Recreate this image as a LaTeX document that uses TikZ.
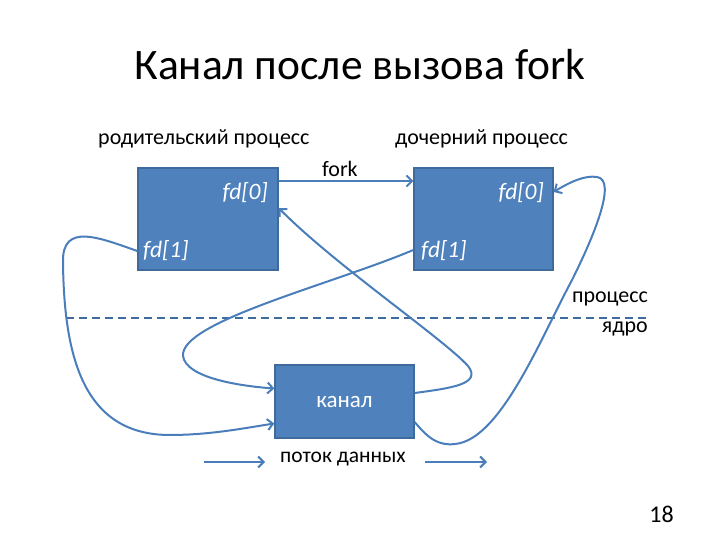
\documentclass[tikz,border=0pt]{standalone}
\usepackage{fontspec}
\setmainfont{Carlito}
\usetikzlibrary{arrows.meta}
\definecolor{boxfill}{HTML}{4F81BD}
\definecolor{boxline}{HTML}{3F6A9C}
\definecolor{connc}{HTML}{4A7EBB}
\begin{document}
\begin{tikzpicture}[x=1pt,y=-1pt,
  box/.style={draw=boxline, line width=1.3pt, fill=boxfill, inner sep=0pt},
  conn/.style={draw=connc, line width=2pt, -{Straight Barb[length=5.5pt,width=11pt]}},
  txt/.style={inner sep=0pt, font=\fontsize{22}{26}\selectfont},
  fdtxt/.style={inner sep=0pt, text=white, font=\fontsize{23.5}{27}\selectfont\itshape},
  sepline/.style={draw=connc!85!black, line width=1.3pt, dash pattern=on 8pt off 5pt}]
\useasboundingbox (0,0) rectangle (720,540);
% title
\node[inner sep=0pt, anchor=base, font=\fontsize{43.5}{50}\selectfont] (title) at (360,80) {Канал после вызова fork};
% labels
\node[txt, anchor=base west] (plab) at (98,145) {родительский процесс};
\node[txt, anchor=base west] (clab) at (395,145) {дочерний процесс};
% boxes
\node[box, minimum width=140pt, minimum height=102pt] (parent) at (208,219) {};
\node[box, minimum width=139pt, minimum height=102pt] (child) at (483.5,219) {};
\node[box, minimum width=139pt, minimum height=73pt, text=white, font=\fontsize{23}{27}\selectfont] (kanal) at (344.5,401.5) {канал};
% fd labels
\node[fdtxt, anchor=base east] (pfd0) at (268,200) {fd[0]};
\node[fdtxt, anchor=base west] (pfd1) at (143,258) {fd[1]};
\node[fdtxt, anchor=base east] (cfd0) at (544,200) {fd[0]};
\node[fdtxt, anchor=base west] (cfd1) at (421,258) {fd[1]};
% fork
\node[txt, anchor=base west] (forklab) at (322,177) {fork};
\draw[conn] ([yshift=38pt]parent.east) -- ([yshift=38pt]child.west);
% process / kernel
\coordinate (dl) at (66,318);
\coordinate (dr) at (648,318);
\draw[sepline] (dl) -- (dr);
\node[txt, anchor=base east] (proc) at (648,302) {процесс};
\node[txt, anchor=base east] (kern) at (648,332) {ядро};
% connectors
\draw[conn] ([yshift=8.5pt]kanal.east) .. controls (452,388) and (482,384) .. (468,366)
  .. controls (445,340) and (335,265) .. ([yshift=11pt]parent.east);
\draw[conn] ([yshift=-32pt]parent.west) .. controls (100,238) and (62,222) .. (63,262)
  .. controls (64,360) and (85,435) .. (170,435)
  .. controls (210,435) and (245,428) .. ([yshift=-22pt]kanal.west);
\draw[conn] ([yshift=-31pt]child.west) .. controls (330,285) and (180,322) .. (183,356)
  .. controls (186,378) and (240,386) .. ([yshift=13pt]kanal.west);
\draw[conn] ([yshift=-20.5pt]kanal.east) .. controls (428,438) and (438,446) .. (455,444)
  .. controls (500,440) and (540,340) .. (572,280)
  .. controls (592,240) and (618,180) .. (597,177)
  .. controls (585,175) and (570,182) .. ([yshift=27pt]child.east);
% legend
\node[inner sep=0pt, anchor=base, font=\fontsize{21.5}{25}\selectfont] (flow) at (343,462) {поток данных};
\coordinate (la) at (204,462);
\coordinate (lb) at (265,462);
\coordinate (ra) at (425,462);
\coordinate (rb) at (487,462);
\draw[conn] (la) -- (lb);
\draw[conn] (ra) -- (rb);
% page number
\node[inner sep=0pt, anchor=base east, font=\fontsize{24}{28}\selectfont] (pnum) at (674,522) {18};
\end{tikzpicture}
\end{document}
